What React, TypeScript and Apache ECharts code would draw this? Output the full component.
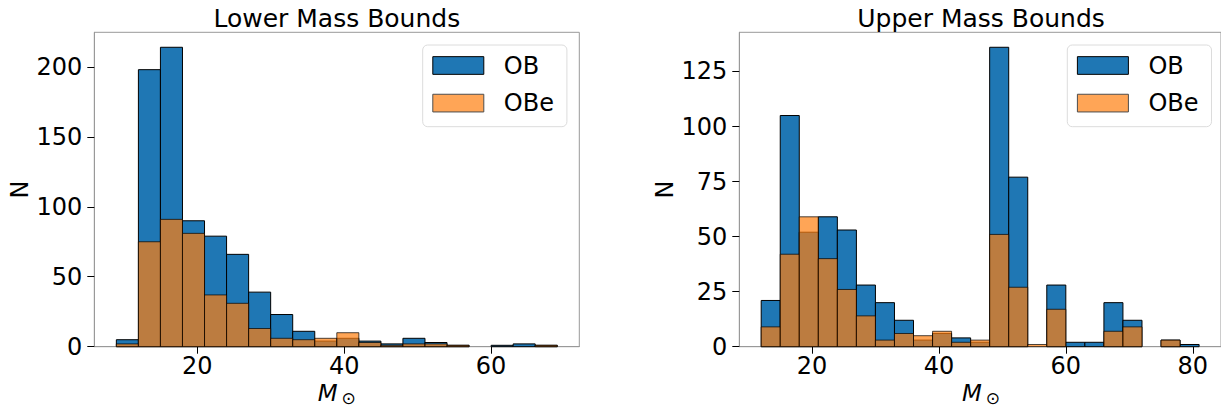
import React, { useEffect, useRef } from "react";
import * as echarts from "echarts";

// Bin edges (solar masses)
const lowerBinEdges = [9, 12, 15, 18, 21, 24, 27, 30, 33, 36, 39, 42, 45, 48, 51, 54, 57, 60, 63, 66, 69];
const upperBinEdges = [12, 15, 18, 21, 24, 27, 30, 33, 36, 39, 42, 45, 48, 51, 54, 57, 60, 63, 66, 69, 72, 75, 78, 81];

// Counts per bin
const lowerOB = [5, 198, 214, 90, 79, 66, 39, 23, 11, 4, 6, 4, 2, 6, 3, 1, 0, 1, 2, 1];
const lowerOBe = [2, 75, 91, 81, 37, 31, 13, 6, 5, 6, 10, 3, 1, 2, 2, 1, 0, 0, 0, 1];
const upperOB = [21, 105, 52, 59, 53, 28, 20, 12, 3, 6, 4, 2, 136, 77, 0, 28, 2, 2, 20, 12, 0, 3, 1];
const upperOBe = [9, 42, 59, 40, 26, 14, 3, 6, 5, 7, 2, 3, 51, 27, 1, 17, 0, 0, 7, 9, 0, 3, 0];

// Tick labels
const lowerXTicks = [20, 40, 60];
const upperXTicks = [20, 40, 60, 80];
const lowerYTicks = [0, 50, 100, 150, 200];
const upperYTicks = [0, 25, 50, 75, 100, 125];

const seriesNames = ["OB", "OBe"];
const titles = ["Lower Mass Bounds", "Upper Mass Bounds"];

const FONT = "DejaVu Sans";
const BLUE = "#1f77b4";
const ORANGE = "#ff7f0e";

function toBins(edges: number[], counts: number[]) {
  return counts.map((c, i) => [edges[i], edges[i + 1], c]);
}

function renderer(fill: string, opacity: number) {
  return (params: any, api: any) => {
    const v = api.value(2);
    if (!v) return null;
    const p0 = api.coord([api.value(0), v]);
    const p1 = api.coord([api.value(1), 0]);
    return {
      type: "rect",
      shape: { x: p0[0], y: p0[1], width: p1[0] - p0[0], height: p1[1] - p0[1] },
      style: { fill, stroke: "#000", lineWidth: 1, opacity },
    };
  };
}

export default function App() {
  const ref = useRef<HTMLDivElement>(null);
  useEffect(() => {
    document.body.style.margin = "0";
    const chart = echarts.init(ref.current!, null, { renderer: "svg" });

    const grids = [
      { left: 94.3, top: 32.3, width: 485, height: 314.4 },
      { left: 739.3, top: 32.3, width: 483.5, height: 314.4 },
    ];
    const xRanges = [
      [6, 72],
      [8.55, 84.45],
    ];
    const yMax = [214 * 1.05, 136 * 1.05];
    const xTicks = [lowerXTicks, upperXTicks];
    const yTicks = [lowerYTicks, upperYTicks];

    const labelStyle = { fontSize: 24, color: "#000", fontFamily: FONT };

    const option: any = {
      animation: false,
      backgroundColor: "#fff",
      grid: grids.map((g) => ({ ...g, show: true, borderColor: "#999", borderWidth: 1, containLabel: false })),
      xAxis: [0, 1].map((i) => ({
        gridIndex: i,
        type: "value",
        min: xRanges[i][0],
        max: xRanges[i][1],
        axisLine: { show: true, lineStyle: { color: "#999", width: 1 } },
        axisTick: { show: true, length: 7, lineStyle: { color: "#000", width: 1 }, customValues: xTicks[i] },
        axisLabel: { ...labelStyle, margin: 7, customValues: xTicks[i] },
        splitLine: { show: false },
      })),
      yAxis: [0, 1].map((i) => ({
        gridIndex: i,
        type: "value",
        min: 0,
        max: yMax[i],
        axisLine: { show: true, lineStyle: { color: "#999", width: 1 } },
        axisTick: { show: true, length: 7, lineStyle: { color: "#000", width: 1 }, customValues: yTicks[i] },
        axisLabel: { ...labelStyle, margin: 12, customValues: yTicks[i] },
        splitLine: { show: false },
      })),
      legend: [
        { left: 422.7, top: 45 },
        { left: 1067.3, top: 45 },
      ].map((pos) => ({
        ...pos,
        orient: "vertical",
        padding: [8.5, 13, 11.6, 9.6],
        itemWidth: 51,
        itemHeight: 17.7,
        itemGap: 13.6,
        icon: "rect",
        borderColor: "#dcdcdc",
        borderWidth: 1,
        borderRadius: 5,
        backgroundColor: "rgba(255,255,255,0.8)",
        textStyle: { fontSize: 24, lineHeight: 24, color: "#000", fontFamily: FONT, padding: [0, 0, 0, 15] },
        data: [
          { name: seriesNames[0], itemStyle: { color: BLUE, borderColor: "#000", borderWidth: 1 } },
          { name: seriesNames[1], itemStyle: { color: "#ffa556", borderColor: "#4d4d4d", borderWidth: 1 } },
        ],
      })),
      series: [
        { data: toBins(lowerBinEdges, lowerOB), idx: 0, name: seriesNames[0], color: BLUE, op: 1 },
        { data: toBins(lowerBinEdges, lowerOBe), idx: 0, name: seriesNames[1], color: ORANGE, op: 0.7 },
        { data: toBins(upperBinEdges, upperOB), idx: 1, name: seriesNames[0], color: BLUE, op: 1 },
        { data: toBins(upperBinEdges, upperOBe), idx: 1, name: seriesNames[1], color: ORANGE, op: 0.7 },
      ].map((s) => ({
        type: "custom",
        name: s.name,
        xAxisIndex: s.idx,
        yAxisIndex: s.idx,
        data: s.data,
        encode: { x: [0, 1], y: 2 },
        itemStyle: { color: s.color },
        renderItem: renderer(s.color, s.op),
      })),
      graphic: [
        ...[0, 1].map((i) => ({
          type: "text",
          x: grids[i].left + grids[i].width / 2,
          y: 18,
          style: {
            text: titles[i],
            fontSize: 25,
            fontFamily: FONT,
            fill: "#000",
            align: "center",
            verticalAlign: "middle",
          },
        })),
        ...[0, 1].map((i) => ({
          type: "text",
          x: grids[i].left - 74,
          y: grids[i].top + grids[i].height / 2,
          rotation: Math.PI / 2,
          style: {
            text: "N",
            fontSize: 24,
            fontFamily: FONT,
            fill: "#000",
            align: "center",
            verticalAlign: "middle",
          },
        })),
        ...[0, 1].map((i) => ({
          type: "text",
          x: (i === 0 ? grids[0].left + grids[0].width / 2 : 812.3 + 20 * 0.0) + (i === 0 ? 0 : 168.7),
          y: 393,
          style: {
            text: "{m|M}{s|⊙}",
            align: "center",
            verticalAlign: "middle",
            rich: {
              m: { fontSize: 23, fontStyle: "italic", fontFamily: FONT, fill: "#000" },
              s: { fontSize: 17, fontFamily: FONT, fill: "#000", padding: [10, 0, 0, 4] },
            },
          },
        })),
      ],
    };
    chart.setOption(option);
    return () => chart.dispose();
  }, []);
  return <div ref={ref} style={{ width: 1221, height: 410 }} />;
}
